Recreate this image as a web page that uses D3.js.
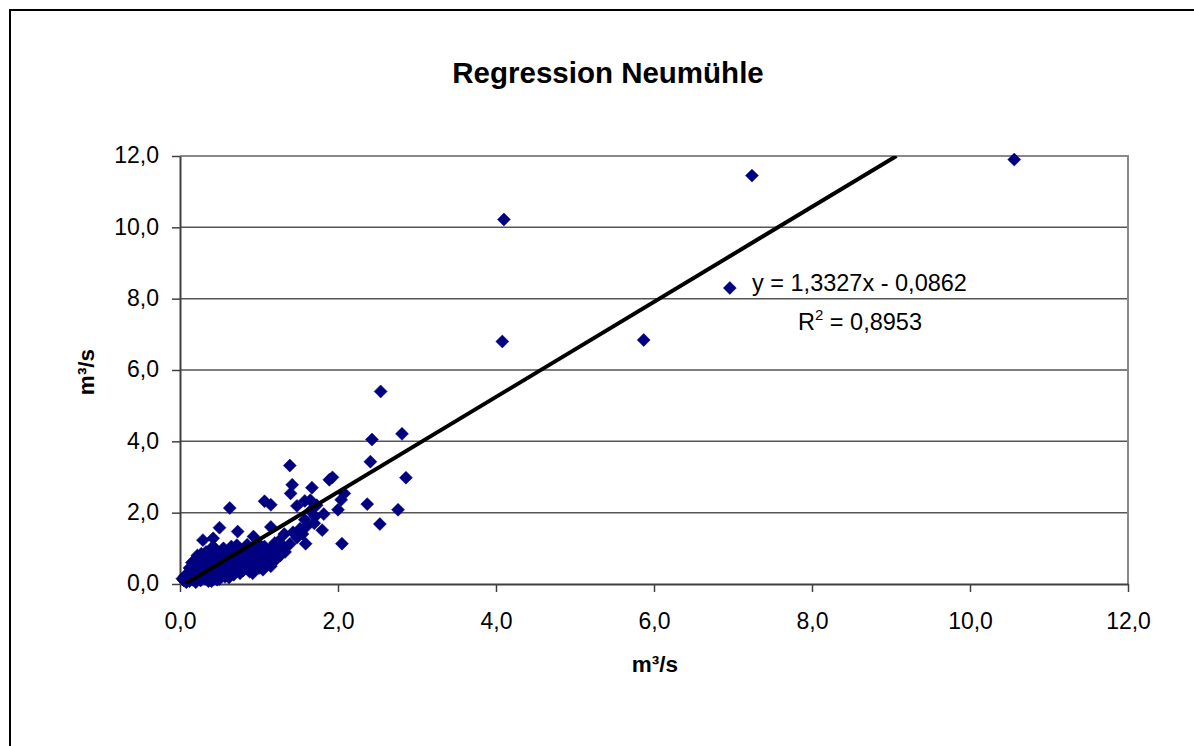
<!DOCTYPE html>
<html><head><meta charset="utf-8">
<script src="https://cdn.jsdelivr.net/npm/d3@7/dist/d3.min.js"></script>
<style>html,body{margin:0;padding:0;background:#fff;}svg{display:block;font-family:"Liberation Sans",Arial,sans-serif;}</style>
</head><body>
<svg id="c" width="1194" height="746"></svg>
<script>
const title = "Regression Neumühle";
const xTitle = "m³/s";
const yTitle = "m³/s";
const xTicks = [0, 2, 4, 6, 8, 10, 12];
const yTicks = [0, 2, 4, 6, 8, 10, 12];
const slope = 1.3327, intercept = -0.0862, r2 = "0,8953";
const eqText = "y = 1,3327x - 0,0862";
// [x, y] observations
const sparsePoints = [
 [10.56,11.90],[7.24,11.45],[4.10,10.22],[6.96,8.30],[4.08,6.80],[5.87,6.84],
 [2.54,5.40],[2.81,4.21],[2.43,4.05],[2.41,3.43],[2.86,2.98],[1.39,3.32],
 [1.42,2.78],[1.40,2.54],[1.67,2.70],[1.89,2.92],[1.93,2.99],[0.63,2.13],
 [1.07,2.32],[1.15,2.22],[1.48,2.19],[1.58,2.33],[1.65,2.35],[1.73,2.21],
 [2.08,2.54],[2.04,2.36],[2.00,2.08],[2.37,2.24],[2.76,2.08],[2.53,1.68],
 [2.05,1.13],[1.82,1.96],[1.80,1.51],[1.71,1.89],[1.60,1.61],[1.58,1.80],
 [1.65,2.05],[0.50,1.58],[0.73,1.47],[0.29,1.23],[0.42,1.28],[0.93,1.33],
 [1.15,1.60],[1.32,1.40],[1.43,1.45],[1.48,1.30],[1.39,1.12],[1.59,1.13],
 [0.42,1.05],[0.72,1.09],[1.52,1.55],[1.70,1.70],[1.25,1.20],[1.55,1.40]
];
const densePoints = [
 [0.03,0.15],[0.05,0.10],[0.06,0.22],[0.08,0.05],[0.10,0.18],[0.10,0.30],
 [0.12,0.08],[0.14,0.22],[0.15,0.38],[0.16,0.12],[0.18,0.28],[0.20,0.48],
 [0.20,0.05],[0.22,0.18],[0.24,0.62],[0.25,0.35],[0.26,0.10],[0.28,0.50],
 [0.30,0.25],[0.30,0.72],[0.32,0.15],[0.34,0.42],[0.35,0.60],[0.36,0.08],
 [0.38,0.30],[0.40,0.80],[0.40,0.50],[0.42,0.20],[0.44,0.38],[0.45,0.66],
 [0.47,0.12],[0.48,0.45],[0.50,0.86],[0.50,0.28],[0.52,0.55],[0.54,0.35],
 [0.55,0.72],[0.57,0.20],[0.58,0.48],[0.60,0.90],[0.60,0.38],[0.62,0.60],
 [0.64,0.30],[0.65,0.76],[0.67,0.45],[0.68,0.26],[0.70,0.95],[0.70,0.55],
 [0.72,0.40],[0.74,0.68],[0.76,0.30],[0.77,0.82],[0.78,0.50],[0.80,0.62],
 [0.80,0.38],[0.82,1.00],[0.84,0.45],[0.85,0.72],[0.87,0.55],[0.88,0.35],
 [0.90,0.86],[0.92,0.65],[0.93,0.48],[0.95,1.02],[0.96,0.58],[0.98,0.76],
 [1.00,0.45],[1.00,0.90],[1.02,0.62],[1.04,0.80],[1.05,0.52],[1.07,1.05],
 [1.08,0.70],[1.10,0.88],[1.12,0.60],[1.13,0.95],[1.15,0.75],[1.17,0.65],
 [1.18,1.02],[1.20,0.85],[1.22,0.70],[1.25,0.95],[1.27,0.80],[1.30,1.05],
 [1.33,0.90],[0.22,0.80],[0.33,0.90],[0.15,0.60],[0.27,0.85],[0.12,0.45],
 [0.45,0.95],[0.55,1.00],[0.65,1.05],[0.85,1.10],[1.00,1.12],[1.20,1.15],
 [0.92,0.30],[1.05,0.40],[1.15,0.50],[0.62,0.18],[0.50,0.14],[0.40,0.08]
];
const points = sparsePoints.concat(densePoints);

const svg = d3.select("#c");
const L = 180, R = 1128, T = 156, B = 584;
const x = d3.scaleLinear().domain([0, 12]).range([L, R]);
const y = d3.scaleLinear().domain([0, 12]).range([B, T]);

// outer frame
svg.append("rect").attr("x", 10).attr("y", 10).attr("width", 1300).attr("height", 900)
  .attr("fill", "none").attr("stroke", "#000").attr("stroke-width", 2);

// title
svg.append("text").attr("x", 608).attr("y", 83).attr("text-anchor", "middle")
  .attr("font-size", 29.5).attr("font-weight", "bold").text(title);

// gridlines
svg.append("g").selectAll("line").data(yTicks.filter(d => d > 0 && d < 12)).join("line")
  .attr("x1", L).attr("x2", R).attr("y1", d => y(d)).attr("y2", d => y(d))
  .attr("stroke", "#555").attr("stroke-width", 1.5);

// plot border top/right
svg.append("path").attr("d", `M${L},${T}H${R}V${B}`).attr("fill", "none")
  .attr("stroke", "#888").attr("stroke-width", 2);

// axes
const fmt = d => d3.format(".1f")(d).replace(".", ",");
const xAxis = d3.axisBottom(x).tickValues(xTicks).tickFormat(fmt).tickSize(8).tickSizeOuter(0);
const yAxis = d3.axisLeft(y).tickValues(yTicks).tickFormat(fmt).tickSize(8).tickSizeOuter(0);
const gx = svg.append("g").attr("transform", `translate(0,${B})`).call(xAxis);
const gy = svg.append("g").attr("transform", `translate(${L},0)`).call(yAxis);
[gx, gy].forEach(g => {
  g.select(".domain").attr("stroke", "#404040").attr("stroke-width", 2);
  g.selectAll(".tick line").attr("stroke", "#404040").attr("stroke-width", 1.5);
  g.selectAll(".tick text").attr("font-size", 23).attr("fill", "#000")
    .attr("font-family", "'Liberation Sans', Arial, sans-serif");
});
gx.selectAll(".tick text").attr("dy", 0).attr("y", 45);
gy.selectAll(".tick text").attr("x", -21).attr("dy", "0.3em");

// axis titles
svg.append("text").attr("x", 655).attr("y", 672).attr("text-anchor", "middle")
  .attr("font-size", 22.5).attr("font-weight", "bold").text(xTitle);
svg.append("text").attr("transform", `translate(94,372) rotate(-90)`).attr("text-anchor", "middle")
  .attr("font-size", 22.5).attr("font-weight", "bold").text(yTitle);

// clip
svg.append("clipPath").attr("id", "clip").append("rect")
  .attr("x", L).attr("y", T).attr("width", R - L).attr("height", B - T);

// points
const sym = d3.symbol().type(d3.symbolSquare).size(84);
svg.append("g").selectAll("path").data(points).join("path")
  .attr("d", sym)
  .attr("transform", d => `translate(${x(d[0])},${y(d[1])}) rotate(45)`)
  .attr("fill", "#000080").attr("stroke", "#000080").attr("stroke-width", 0.5);

// trendline
const xStart = (0 - intercept) / slope, xEnd = (12 - intercept) / slope;
svg.append("line").attr("clip-path", "url(#clip)")
  .attr("x1", x(xStart)).attr("y1", y(slope * xStart + intercept))
  .attr("x2", x(xEnd)).attr("y2", y(slope * xEnd + intercept))
  .attr("stroke", "#000").attr("stroke-width", 4);

// equation
svg.append("text").attr("x", 752).attr("y", 291).attr("font-size", 23.5).text(eqText);
const rt = svg.append("text").attr("x", 798).attr("y", 330).attr("font-size", 23.5);
rt.append("tspan").text("R");
rt.append("tspan").attr("font-size", 15).attr("dy", -10).text("2");
rt.append("tspan").attr("dy", 10).text(" = " + r2);
</script>
</body></html>
